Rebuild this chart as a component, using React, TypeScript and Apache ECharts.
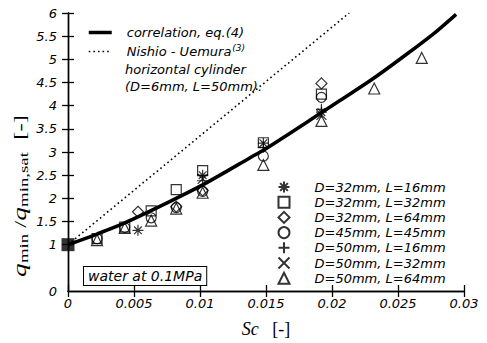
import React, { useEffect, useRef } from 'react';
import * as echarts from 'echarts';

// ---- data ----
const X_MIN = 0;
const X_MAX = 0.03;
const X_INTERVAL = 0.005;
const Y_MIN = 0;
const Y_MAX = 6;
const yLabelValues = [0, 1, 1.5, 2, 2.5, 3, 3.5, 4, 4.5, 5, 5.5, 6];
const yTickValues = [1, 1.5, 2, 2.5, 3, 3.5, 4, 4.5, 5, 5.5, 6];

// correlation, eq.(4) (solid thick curve)
const corrX = [0, 0.0022, 0.0043, 0.0077, 0.0102, 0.0137, 0.0152, 0.0191, 0.0206, 0.0231, 0.0257, 0.0279, 0.0294];
const corrY = [1, 1.23, 1.47, 1.93, 2.29, 2.86, 3.11, 3.83, 4.11, 4.58, 5.12, 5.6, 5.97];

// Nishio - Uemura (dotted line)
const nishioX = [0, 0.0213];
const nishioY = [1, 6];

// Sc = 0 reference point (filled square)
const originX = [0];
const originY = [1];

// measured points per test section
const s1Name = 'D=32mm, L=16mm';
const s1X = [0.0053, 0.0102, 0.0148, 0.0192];
const s1Y = [1.31, 2.5, 3.19, 3.86];

const s2Name = 'D=32mm, L=32mm';
const s2X = [0.0022, 0.0043, 0.0063, 0.0082, 0.0102, 0.0148, 0.0192];
const s2Y = [1.13, 1.38, 1.73, 2.19, 2.6, 3.2, 4.25];

const s3Name = 'D=32mm, L=64mm';
const s3X = [0.0053, 0.0082, 0.0102, 0.0192];
const s3Y = [1.71, 1.82, 2.17, 4.48];

const s4Name = 'D=45mm, L=45mm';
const s4X = [0.0022, 0.0043, 0.0063, 0.0082, 0.0102, 0.0148, 0.0192];
const s4Y = [1.13, 1.37, 1.58, 1.8, 2.15, 2.91, 4.18];

const s5Name = 'D=50mm, L=16mm';
const s5X = [0.0102, 0.0148, 0.0192];
const s5Y = [2.38, 3.1, 3.92];

const s6Name = 'D=50mm, L=32mm';
const s6X = [0.0102, 0.0192];
const s6Y = [2.42, 3.8];

const s7Name = 'D=50mm, L=64mm';
const s7X = [0.0022, 0.0043, 0.0063, 0.0082, 0.0102, 0.0148, 0.0192, 0.0232, 0.0268];
const s7Y = [1.1, 1.36, 1.52, 1.78, 2.12, 2.72, 3.67, 4.37, 5.03];

const corrName = 'correlation, eq.(4)';
const nishioName = 'Nishio - Uemura';
const nishioLine2 = 'horizontal cylinder';
const nishioLine3 = '(D=6mm, L=50mm).';
const boxText = 'water at 0.1MPa';

const pairs = (xs: number[], ys: number[]) => xs.map((x, i) => [x, ys[i]]);

const SANS = 'DejaVu Sans';
const SERIF = 'Liberation Serif';

const SYM_ASTERISK = 'path://M5,0L5,10M0,5L10,5M1.5,1.5L8.5,8.5M1.5,8.5L8.5,1.5';
const SYM_PLUS = 'path://M5,0L5,10M0,5L10,5';
const SYM_CROSS = 'path://M0,0L10,10M0,10L10,0';

const CORR_LINE = { color: '#000', width: 3.5, type: 'solid' as const };
const NISHIO_LINE = { color: '#000', width: 1.6, type: [1.6, 3] as any };
const HIDDEN_ICON = { color: 'transparent', borderColor: 'transparent', borderWidth: 0 };

export default function App() {
  const ref = useRef<HTMLDivElement>(null);

  useEffect(() => {
    document.body.style.margin = '0';
    if (!ref.current) return;
    const chart = echarts.init(ref.current, null, { renderer: 'svg' });

    const markerSeries = (name: string, xs: number[], ys: number[], symbol: string, size: number) => ({
      name,
      type: 'scatter',
      data: pairs(xs, ys),
      symbol,
      symbolSize: size,
      itemStyle: { color: 'none', borderColor: '#000', borderWidth: 1.2 },
      z: 3,
    });

    const axisCommon = {
      type: 'value',
      axisLine: { show: true, lineStyle: { color: '#000', width: 1.4 } },
      splitLine: { show: false },
    };

    const option: any = {
      animation: false,
      backgroundColor: '#fff',
      grid: { left: 68, top: 13, right: 23, bottom: 46 },
      xAxis: [
        {
          ...axisCommon,
          position: 'bottom',
          min: X_MIN,
          max: X_MAX,
          interval: X_INTERVAL,
          axisTick: { show: true, inside: true, length: 6, lineStyle: { color: '#000', width: 1.3 } },
          axisLabel: {
            color: '#000',
            fontFamily: SANS,
            fontStyle: 'italic',
            fontSize: 13,
            margin: 6,
          },
          name: '{i|Sc}{n|   [-]}',
          nameLocation: 'middle',
          nameGap: 29,
          nameTextStyle: {
            rich: {
              i: { fontFamily: SERIF, fontStyle: 'italic', fontSize: 18, color: '#000' },
              n: { fontFamily: SERIF, fontSize: 18, color: '#000' },
            },
          },
        },
        {
          ...axisCommon,
          position: 'top',
          min: X_MIN,
          max: X_MAX,
          interval: X_INTERVAL,
          axisTick: { show: true, inside: true, length: 6, lineStyle: { color: '#000', width: 1.3 } },
          axisLabel: { show: false },
        },
      ],
      yAxis: [
        {
          ...axisCommon,
          position: 'left',
          min: Y_MIN,
          max: Y_MAX,
          axisTick: {
            show: true,
            inside: true,
            length: 6,
            customValues: yTickValues,
            lineStyle: { color: '#000', width: 1.3 },
          },
          axisLabel: {
            customValues: yLabelValues,
            color: '#000',
            fontFamily: SANS,
            fontStyle: 'italic',
            fontSize: 13,
            margin: 11,
          },
        },
        {
          ...axisCommon,
          position: 'right',
          min: Y_MIN,
          max: Y_MAX,
          axisTick: {
            show: true,
            inside: true,
            length: 6,
            customValues: yTickValues,
            lineStyle: { color: '#000', width: 1.3 },
          },
          axisLabel: { show: false },
        },
      ],
      legend: [
        {
          orient: 'vertical',
          left: 87,
          top: 23,
          padding: 0,
          itemWidth: 23,
          itemHeight: 14,
          itemGap: 0,
          data: [
            { name: corrName, itemStyle: HIDDEN_ICON, lineStyle: CORR_LINE },
            { name: nishioName, itemStyle: HIDDEN_ICON, lineStyle: NISHIO_LINE },
          ],
          formatter: (name: string) =>
            name === nishioName ? '{a|' + nishioName + '}{s|(3)}' : '{a|' + name + '}',
          textStyle: {
            color: '#000',
            fontFamily: SANS,
            fontStyle: 'italic',
            fontSize: 13,
            lineHeight: 19,
            padding: [0, 0, 0, 10],
            rich: {
              a: { fontFamily: SANS, fontStyle: 'italic', fontSize: 13, lineHeight: 19, color: '#000' },
              s: {
                fontFamily: SANS,
                fontStyle: 'italic',
                fontSize: 9,
                lineHeight: 10,
                color: '#000',
                padding: [0, 0, 7, 1],
              },
            },
          },
        },
        {
          orient: 'vertical',
          left: 276,
          top: 179,
          padding: 0,
          itemWidth: 11,
          itemHeight: 11,
          itemGap: -0.8,
          data: [s1Name, s2Name, s3Name, s4Name, s5Name, s6Name, s7Name],
          textStyle: {
            color: '#000',
            fontFamily: SANS,
            fontStyle: 'italic',
            fontSize: 13,
            lineHeight: 14.6,
            padding: [0, 0, 0, 20],
          },
        },
      ],
      graphic: [
        {
          type: 'text',
          left: 125,
          top: 63,
          style: {
            text: nishioLine2,
            fontFamily: SANS,
            fontStyle: 'italic',
            fontSize: 13,
            fill: '#000',
          },
        },
        {
          type: 'text',
          left: 125,
          top: 80,
          style: {
            text: nishioLine3,
            fontFamily: SANS,
            fontStyle: 'italic',
            fontSize: 13,
            fill: '#000',
          },
        },
        {
          type: 'text',
          left: 83,
          top: 266,
          z: 10,
          style: {
            text: boxText,
            fontFamily: SANS,
            fontStyle: 'italic',
            fontSize: 14,
            fill: '#000',
            backgroundColor: '#fff',
            borderColor: '#000',
            borderWidth: 1,
            padding: [2, 4, 2, 4],
          },
        },
        {
          type: 'text',
          x: 20,
          y: 196,
          rotation: Math.PI / 2,
          scaleX: 1.45,
          style: {
            text: '{q|q}{s|min}{t| /}{q|q}{s|min,sat}{t|  [-]}',
            align: 'center',
            verticalAlign: 'middle',
            rich: {
              q: { fontFamily: SERIF, fontStyle: 'italic', fontSize: 19, fill: '#000' },
              s: { fontFamily: SERIF, fontSize: 13, fill: '#000', padding: [8, 0, 0, 0] },
              t: { fontFamily: SERIF, fontSize: 17, fill: '#000' },
            },
          },
        },
      ],
      series: [
        {
          name: corrName,
          type: 'line',
          data: pairs(corrX, corrY),
          smooth: 0.3,
          symbol: 'none',
          showSymbol: false,
          lineStyle: CORR_LINE,
          itemStyle: { color: '#000' },
          z: 2,
        },
        {
          name: nishioName,
          type: 'line',
          data: pairs(nishioX, nishioY),
          symbol: 'none',
          showSymbol: false,
          lineStyle: NISHIO_LINE,
          itemStyle: { color: '#000' },
          z: 2,
        },
        {
          name: 'Sc=0',
          type: 'scatter',
          data: pairs(originX, originY),
          symbol: 'rect',
          symbolSize: 13,
          itemStyle: { color: '#000' },
          z: 4,
        },
        markerSeries(s1Name, s1X, s1Y, SYM_ASTERISK, 11),
        markerSeries(s2Name, s2X, s2Y, 'rect', 10),
        markerSeries(s3Name, s3X, s3Y, 'diamond', 11),
        markerSeries(s4Name, s4X, s4Y, 'circle', 10),
        markerSeries(s5Name, s5X, s5Y, SYM_PLUS, 11),
        markerSeries(s6Name, s6X, s6Y, SYM_CROSS, 10),
        markerSeries(s7Name, s7X, s7Y, 'triangle', 11),
      ],
    };

    chart.setOption(option);
    return () => chart.dispose();
  }, []);

  return <div ref={ref} style={{ width: 487, height: 343 }} />;
}
